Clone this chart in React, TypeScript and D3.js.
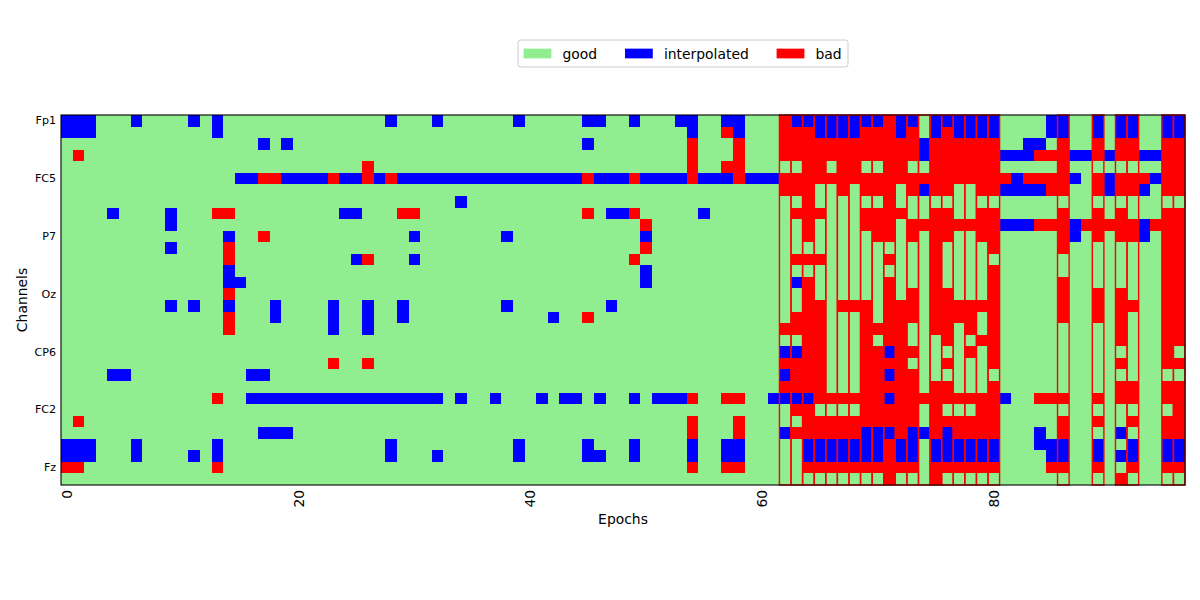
import React from 'react';
import * as d3 from 'd3';

// ---------------- data ----------------
const CHANNELS = [
  'Fp1', 'AF3', 'F7', 'F3', 'FC1', 'FC5', 'T7', 'C3', 'CP1', 'CP5', 'P7', 'P3', 'Pz', 'PO3', 'O1', 'Oz',
  'O2', 'PO4', 'P4', 'P8', 'CP6', 'CP2', 'C4', 'T8', 'FC6', 'FC2', 'F4', 'F8', 'AF4', 'Fp2', 'Fz', 'Cz',
];
const N_EPOCHS = 97;
const LABEL_NAMES = ['good', 'interpolated', 'bad'];
const LABEL_COLORS = ['#90ee90', '#0000ff', '#ff0000'];
// rejected epochs (outlined in red)
const BAD_EPOCHS = [62, 63, 64, 65, 66, 67, 68, 69, 70, 71, 72, 73, 74, 75, 76, 77, 78, 79, 80, 86, 89, 91, 92, 95, 96];
const X_TICKS = [0, 20, 40, 60, 80];
const Y_TICK_CHANNELS = ['Fp1', 'FC5', 'P7', 'Oz', 'CP6', 'FC2', 'Fz'];

// per-channel labels for each epoch: 0 = good, 1 = interpolated, 2 = bad
const CHANNEL_LABELS = [
  '1110001000 0101000000 0000000010 0010000001 0000011001 0001100110 0021111111 1211011111 1000011001 0110011',
  '1110000000 0001000000 0000000000 0000000000 0000000000 0000100210 0022211112 2212012111 1000011001 0110011',
  '0000000000 0000000101 0000000000 0000000000 0000010000 0000200020 0022222222 2222122222 2001102002 0220022',
  '0200000000 0000000000 0000000000 0000000000 0000000000 0000200020 0022222222 2222122222 2111222112 1221122',
  '0000000000 0000000000 0000002000 0000000000 0000000000 0000200220 0000220220 0220022222 2000002000 0000022',
  '0000000000 0000011221 1112112121 1111111111 1111121112 1111211121 1122222222 2222222222 2212222102 1222122',
  '0000000000 0000000000 0000000000 0000000000 0000000000 0000000000 0022200202 2202122002 2111122002 1221022',
  '0000000000 0000000000 0000000000 0000100000 0000000000 0000000000 0000200000 0200000000 0000000000 0000000',
  '0000100001 0002200000 0000110002 2000000000 0000020112 0000010000 0002220002 2220022002 2000002002 0200022',
  '0000000001 0000000000 0000000000 0000000000 0000000000 2000000000 0000200002 2202222222 2111222122 2221222',
  '0000000000 0000100200 0000000000 1000000010 0000000000 1000000000 0000200000 2202022002 2000002102 0221022',
  '0000000001 0000200000 0000000000 0000000000 0000000000 2000000000 0000000000 0000020000 2000002000 0000022',
  '0000000000 0000200000 0000012000 1000000000 0000000002 0000000000 0002220000 0200020000 0000000000 0000022',
  '0000000000 0000100000 0000000000 0000000000 0000000000 1000000000 0000000000 0000020000 2000000000 0000022',
  '0000000000 0000110000 0000000000 0000000000 0000000000 1000000000 0001200000 0200020000 2000002000 0000022',
  '0000000000 0000200000 0000000000 0000000000 0000000000 0000000000 0000200000 0202022000 2000002002 0200022',
  '0000000001 0100100010 0001001001 0000000010 0000000100 0000000000 0000220222 0222022222 2000002002 0220022',
  '0000000000 0000200010 0001001001 0000000000 0010020000 0000000000 0002220002 0222022220 2000002002 0200022',
  '0000000000 0000200000 0001001000 0000000000 0000000000 0000000000 0022220002 2220022020 2000000000 0200022',
  '0000000000 0000000000 0000000000 0000000000 0000000000 0000000000 0000220002 0220002002 2000000000 0200022',
  '0000000000 0000000000 0000000000 0000000000 0000000000 0000000000 0011220002 2122000020 2000000000 0000020',
  '0000000000 0000000000 0002002000 0000000000 0000000000 0000000000 0022220002 2220002000 2000000000 0200022',
  '0000110000 0000001100 0000000000 0000000000 0000000000 0000000000 0012220002 2122000000 0000000000 0000000',
  '0000000000 0000000000 0000000000 0000000000 0000000000 0000000000 0022220002 2222022000 2000000000 0220022',
  '0000000000 0002001111 1111111111 1110100100 0101101001 0111200220 0111122222 2122222222 2100222002 0220022',
  '0000000000 0000000000 0000000000 0000000000 0000000000 0000000000 0002200002 2222020002 2000000000 0000002',
  '0200000000 0000000000 0000000000 0000000000 0000000000 0000200020 0000222222 2222022222 2000002002 0020022',
  '0000000000 0000000111 0000000000 0000000000 0000000000 0000200020 0012222221 1121121222 2000102000 0100022',
  '1110001000 0001000000 0000000010 0000000001 0000010001 0000100110 0000111111 1211011111 1000111001 0010011',
  '1110001000 0101000000 0000000010 0010000001 0000011001 0000100110 0000111111 1211011111 1000011001 0110011',
  '2200000000 0002000000 0000000000 0000000000 0000000000 0000200220 0000222222 2222022222 2000022002 0020022',
  '0000000000 0000000000 0000000000 0000000000 0000000000 0000000000 0000000000 0200020000 0000000000 0200000',
];

// ---------------- layout ----------------
const W = 1200;
const H = 600;
const PLOT = { left: 61, right: 1185, top: 115, bottom: 485 };
const FONT = "'DejaVu Sans', 'Liberation Sans', sans-serif";

export default function App() {
  const x = d3.scaleLinear().domain([-0.5, N_EPOCHS - 0.5]).range([PLOT.left, PLOT.right]);
  const y = d3.scaleLinear().domain([-0.5, CHANNELS.length - 0.5]).range([PLOT.top, PLOT.bottom]);
  const color = d3.scaleOrdinal<number, string>().domain([0, 1, 2]).range(LABEL_COLORS);

  const grid = CHANNEL_LABELS.map((row) => row.replace(/\s/g, '').split('').map(Number));

  const cells: React.ReactElement[] = [];
  grid.forEach((row, ci) => {
    row.forEach((v, ei) => {
      if (ei >= N_EPOCHS) return;
      const x0 = x(ei - 0.5);
      const x1 = x(ei + 0.5);
      const y0 = y(ci - 0.5);
      const y1 = y(ci + 0.5);
      cells.push(
        <rect key={`${ci}-${ei}`} x={x0} y={y0} width={x1 - x0 + 0.4} height={y1 - y0 + 0.4} fill={color(v)} />
      );
    });
  });

  // legend geometry (matplotlib-like, fontsize 13.9px)
  const fs = 13.9;
  const legendX = 518;
  const legendY = 40;
  const handleW = 2.0 * fs;
  const handleH = 0.7 * fs;
  const textPad = 0.8 * fs;
  const colSpace = 2.0 * fs;
  const borderPad = 0.4 * fs;
  const textWidths = [34.7, 84.9, 26.2];
  let cursor = legendX + borderPad;
  const legendItems = LABEL_NAMES.map((name, i) => {
    const hx = cursor;
    const tx = hx + handleW + textPad;
    cursor = tx + textWidths[i] + colSpace;
    return { name, hx, tx, color: LABEL_COLORS[i] };
  });
  const legendW = 330;
  const legendH = 27;
  const legendMid = legendY + legendH / 2;

  return (
    <svg
      width={W}
      height={H}
      viewBox={`0 0 ${W} ${H}`}
      style={{ position: 'absolute', left: 0, top: 0, background: '#ffffff' }}
      fontFamily={FONT}
    >
      <rect x={0} y={0} width={W} height={H} fill="#ffffff" />
      <g shapeRendering="crispEdges">{cells}</g>

      {/* rejected-epoch outlines */}
      <g>
        {BAD_EPOCHS.map((e) => (
          <rect
            key={`bad-${e}`}
            x={x(e - 0.5)}
            y={y(-0.5)}
            width={x(e + 0.5) - x(e - 0.5)}
            height={y(CHANNELS.length - 0.5) - y(-0.5)}
            fill="none"
            stroke="#ff0000"
            strokeWidth={1.39}
          />
        ))}
      </g>

      {/* frame */}
      <rect
        x={PLOT.left}
        y={PLOT.top}
        width={PLOT.right - PLOT.left}
        height={PLOT.bottom - PLOT.top}
        fill="none"
        stroke="#000000"
        strokeWidth={1.1}
      />

      {/* y tick labels */}
      <g fontSize={11.1} fill="#000000">
        {Y_TICK_CHANNELS.map((name) => {
          const idx = CHANNELS.indexOf(name);
          return (
            <text key={name} x={PLOT.left - 4.9} y={y(idx)} textAnchor="end" dominantBaseline="central">
              {name}
            </text>
          );
        })}
      </g>

      {/* x tick labels (rotated) */}
      <g fontSize={13.9} fill="#000000">
        {X_TICKS.map((t) => (
          <text
            key={t}
            transform={`translate(${x(t)},${PLOT.bottom + 4.9}) rotate(-90)`}
            textAnchor="end"
            dominantBaseline="central"
          >
            {t}
          </text>
        ))}
      </g>

      {/* axis labels */}
      <text x={(PLOT.left + PLOT.right) / 2} y={524} textAnchor="middle" fontSize={13.9} fill="#000000">
        Epochs
      </text>
      <text
        transform={`translate(27,${(PLOT.top + PLOT.bottom) / 2}) rotate(-90)`}
        textAnchor="middle"
        fontSize={13.9}
        fill="#000000"
      >
        Channels
      </text>

      {/* legend */}
      <g>
        <rect
          x={legendX}
          y={legendY}
          width={legendW}
          height={legendH}
          rx={2.8}
          ry={2.8}
          fill="#ffffff"
          fillOpacity={0.8}
          stroke="#cccccc"
          strokeWidth={1}
        />
        {legendItems.map((it) => (
          <g key={it.name}>
            <rect x={it.hx} y={legendMid - handleH / 2} width={handleW} height={handleH} fill={it.color} />
            <text x={it.tx} y={legendMid} dominantBaseline="central" fontSize={fs} fill="#000000">
              {it.name}
            </text>
          </g>
        ))}
      </g>
    </svg>
  );
}
